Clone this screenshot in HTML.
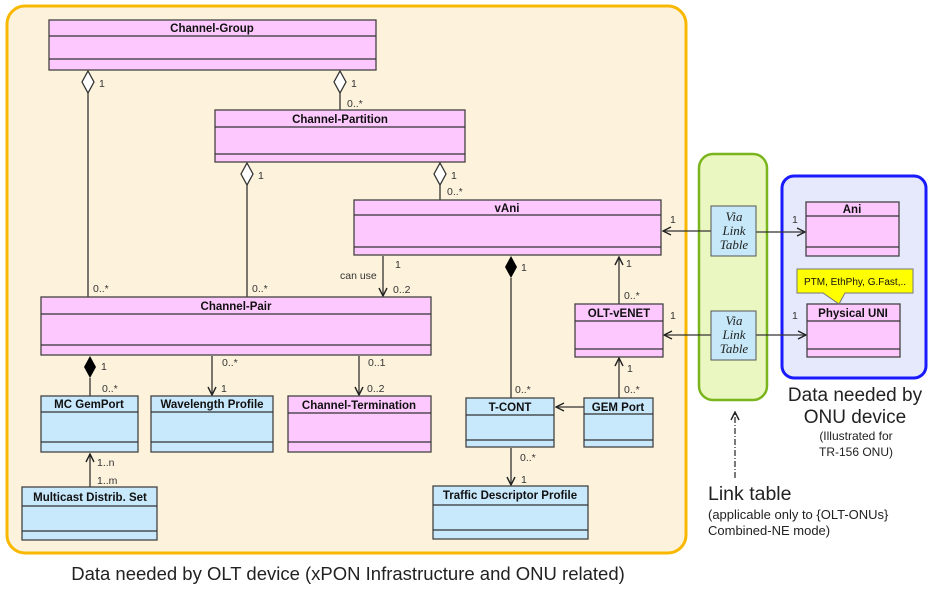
<!DOCTYPE html>
<html><head><meta charset="utf-8"><style>
body{margin:0;background:#fff;width:934px;height:591px;overflow:hidden}
svg{display:block;font-family:"Liberation Sans",sans-serif}
.t{font-weight:bold;font-size:11.5px;fill:#111}
.m{font-size:10.5px;fill:#333}
.p{fill:#fdc8fd;stroke:#444;stroke-width:1.3}
.b{fill:#c8e8fb;stroke:#444;stroke-width:1.3}
.l{stroke:#333;stroke-width:1.3;fill:none}
</style></head><body>
<svg width="934" height="591" viewBox="0 0 934 591">
<defs><marker id="a" markerWidth="10" markerHeight="10" refX="9" refY="5" orient="auto" markerUnits="userSpaceOnUse"><path d="M1,1 L9,5 L1,9" fill="none" stroke="#222" stroke-width="1.4"/></marker></defs>
<rect x="7" y="6" width="679" height="547" rx="18" fill="#fdf3dc" stroke="#f9b800" stroke-width="3"/>
<rect x="699" y="154" width="68" height="246" rx="14" fill="#ebf7c0" stroke="#7ab51d" stroke-width="2.5"/>
<rect x="782" y="176" width="144" height="202" rx="12" fill="#e6e8fb" stroke="#1a1aff" stroke-width="3"/>

<line class="l" x1="88" y1="93" x2="88" y2="297"/>
<path d="M88,71 L94,82 L88,93 L82,82Z" fill="#fff" stroke="#333" stroke-width="1.3"/>
<line class="l" x1="340" y1="93" x2="340" y2="110"/>
<path d="M340,71 L346,82 L340,93 L334,82Z" fill="#fff" stroke="#333" stroke-width="1.3"/>
<line class="l" x1="247" y1="185" x2="247" y2="297"/>
<path d="M247,163 L253,174 L247,185 L241,174Z" fill="#fff" stroke="#333" stroke-width="1.3"/>
<line class="l" x1="440" y1="185" x2="440" y2="200"/>
<path d="M440,163 L446,174 L440,185 L434,174Z" fill="#fff" stroke="#333" stroke-width="1.3"/>
<line class="l" x1="383" y1="256" x2="383" y2="296" marker-end="url(#a)"/>
<line class="l" x1="511" y1="278" x2="511" y2="398"/>
<path d="M511,256 L517,267 L511,278 L505,267Z" fill="#000"/>
<line class="l" x1="619" y1="304" x2="619" y2="257" marker-end="url(#a)"/>
<line class="l" x1="619" y1="398" x2="619" y2="358" marker-end="url(#a)"/>
<line class="l" x1="584" y1="407" x2="556" y2="407" marker-end="url(#a)"/>
<line class="l" x1="511" y1="448" x2="511" y2="485" marker-end="url(#a)"/>
<line class="l" x1="90" y1="378" x2="90" y2="396"/>
<path d="M90,356 L96,367 L90,378 L84,367Z" fill="#000"/>
<line class="l" x1="212" y1="356" x2="212" y2="395" marker-end="url(#a)"/>
<line class="l" x1="359" y1="356" x2="359" y2="395" marker-end="url(#a)"/>
<line class="l" x1="90" y1="487" x2="90" y2="454" marker-end="url(#a)"/>
<line class="l" x1="711" y1="231" x2="663" y2="231" marker-end="url(#a)"/>
<line class="l" x1="756" y1="232" x2="805" y2="232" marker-end="url(#a)"/>
<line class="l" x1="711" y1="335" x2="664" y2="335" marker-end="url(#a)"/>
<line class="l" x1="756" y1="335" x2="806" y2="335" marker-end="url(#a)"/>
<line x1="735" y1="478" x2="735" y2="412" stroke="#222" stroke-width="1.2" stroke-dasharray="6,2,1,2" marker-end="url(#a)"/>

<g>
<rect class="p" x="49" y="20" width="327" height="50"/><line class="l" x1="49" y1="36" x2="376" y2="36"/><line class="l" x1="49" y1="59" x2="376" y2="59"/>
<text class="t" x="212" y="32" text-anchor="middle">Channel-Group</text>
<rect class="p" x="215" y="110" width="250" height="52"/><line class="l" x1="215" y1="127" x2="465" y2="127"/><line class="l" x1="215" y1="154" x2="465" y2="154"/>
<text class="t" x="340" y="123" text-anchor="middle">Channel-Partition</text>
<rect class="p" x="354" y="200" width="307" height="55"/><line class="l" x1="354" y1="215" x2="661" y2="215"/><line class="l" x1="354" y1="247" x2="661" y2="247"/>
<text class="t" x="507" y="212" text-anchor="middle">vAni</text>
<rect class="p" x="41" y="297" width="390" height="58"/><line class="l" x1="41" y1="314" x2="431" y2="314"/><line class="l" x1="41" y1="345" x2="431" y2="345" stroke="#000"/>
<text class="t" x="236" y="310" text-anchor="middle">Channel-Pair</text>
<rect class="b" x="41" y="396" width="97" height="56"/><line class="l" x1="41" y1="412" x2="138" y2="412"/><line class="l" x1="41" y1="442" x2="138" y2="442"/>
<text class="t" x="89" y="408" text-anchor="middle">MC GemPort</text>
<rect class="b" x="151" y="396" width="122" height="56"/><line class="l" x1="151" y1="412" x2="273" y2="412"/><line class="l" x1="151" y1="442" x2="273" y2="442"/>
<text class="t" x="212" y="408" text-anchor="middle">Wavelength Profile</text>
<rect class="p" x="288" y="396" width="143" height="56"/><line class="l" x1="288" y1="413" x2="431" y2="413"/><line class="l" x1="288" y1="442" x2="431" y2="442"/>
<text class="t" x="359" y="409" text-anchor="middle">Channel-Termination</text>
<rect class="b" x="22" y="487" width="135" height="53"/><line class="l" x1="22" y1="506" x2="157" y2="506"/><line class="l" x1="22" y1="531" x2="157" y2="531"/>
<text class="t" x="90" y="501" text-anchor="middle">Multicast Distrib. Set</text>
<rect class="b" x="466" y="398" width="88" height="49"/><line class="l" x1="466" y1="415" x2="554" y2="415"/><line class="l" x1="466" y1="440" x2="554" y2="440"/>
<text class="t" x="510" y="411" text-anchor="middle">T-CONT</text>
<rect class="b" x="584" y="398" width="69" height="49"/><line class="l" x1="584" y1="414" x2="653" y2="414"/><line class="l" x1="584" y1="440" x2="653" y2="440"/>
<text class="t" x="618" y="411" text-anchor="middle">GEM Port</text>
<rect class="p" x="575" y="304" width="88" height="53"/><line class="l" x1="575" y1="321" x2="663" y2="321"/><line class="l" x1="575" y1="349" x2="663" y2="349"/>
<text class="t" x="619" y="317" text-anchor="middle">OLT-vENET</text>
<rect class="b" x="433" y="486" width="155" height="53"/><line class="l" x1="433" y1="505" x2="588" y2="505"/><line class="l" x1="433" y1="530" x2="588" y2="530"/>
<text class="t" x="510" y="499" text-anchor="middle">Traffic Descriptor Profile</text>
<rect class="p" x="806" y="202" width="93" height="54"/><line class="l" x1="806" y1="216" x2="899" y2="216"/><line class="l" x1="806" y1="247" x2="899" y2="247"/>
<text class="t" x="852" y="213" text-anchor="middle">Ani</text>
<rect class="p" x="807" y="304" width="93" height="53"/><line class="l" x1="807" y1="321" x2="900" y2="321"/><line class="l" x1="807" y1="349" x2="900" y2="349" stroke="#000"/>
<text class="t" x="853" y="317" text-anchor="middle">Physical UNI</text>
<path d="M797,269 H913 V293 H845 L839,304 L823,293 H797Z" fill="#ffff00" stroke="#777" stroke-width="1"/>
<text x="855" y="285" text-anchor="middle" font-size="10" fill="#111">PTM, EthPhy, G.Fast,..</text>
<rect x="711" y="206" width="45" height="50" fill="#c6e8f8" stroke="#555"/>
<rect x="711" y="311" width="45" height="49" fill="#c6e8f8" stroke="#555"/>
<g font-family="Liberation Serif,serif" font-style="italic" font-size="13" fill="#222" text-anchor="middle">
<text x="734" y="221">Via</text><text x="734" y="235">Link</text><text x="734" y="249">Table</text>
<text x="734" y="325">Via</text><text x="734" y="339">Link</text><text x="734" y="353">Table</text>
</g>
</g>

<g class="m">
<text x="99" y="87">1</text><text x="351" y="87">1</text><text x="347" y="107">0..*</text>
<text x="258" y="179">1</text><text x="451" y="179">1</text><text x="447" y="195">0..*</text>
<text x="93" y="292">0..*</text><text x="252" y="292">0..*</text>
<text x="395" y="268">1</text><text x="340" y="279">can use</text><text x="393" y="293">0..2</text>
<text x="521" y="271">1</text><text x="626" y="267">1</text><text x="624" y="299">0..*</text>
<text x="515" y="393">0..*</text><text x="627" y="372">1</text><text x="624" y="393">0..*</text>
<text x="520" y="461">0..*</text><text x="521" y="483">1</text>
<text x="101" y="370">1</text><text x="102" y="392">0..*</text>
<text x="222" y="366">0..*</text><text x="221" y="392">1</text>
<text x="368" y="366">0..1</text><text x="367" y="392">0..2</text>
<text x="97" y="466">1..n</text><text x="97" y="484">1..m</text>
<text x="670" y="223">1</text><text x="670" y="319">1</text>
<text x="792" y="223">1</text><text x="792" y="319">1</text>
</g>
<g fill="#222">
<text x="348" y="580" text-anchor="middle" font-size="18.5">Data needed by OLT device (xPON Infrastructure and ONU related)</text>
<text x="855" y="401" text-anchor="middle" font-size="19">Data needed by</text>
<text x="855" y="423" text-anchor="middle" font-size="19">ONU device</text>
<text x="856" y="440" text-anchor="middle" font-size="12">(Illustrated for</text>
<text x="856" y="456" text-anchor="middle" font-size="12">TR-156 ONU)</text>
<text x="708" y="500" font-size="19.5">Link table</text>
<text x="708" y="519" font-size="13">(applicable only to {OLT-ONUs}</text>
<text x="708" y="535" font-size="13">Combined-NE mode)</text>
</g>
</svg>
</body></html>
